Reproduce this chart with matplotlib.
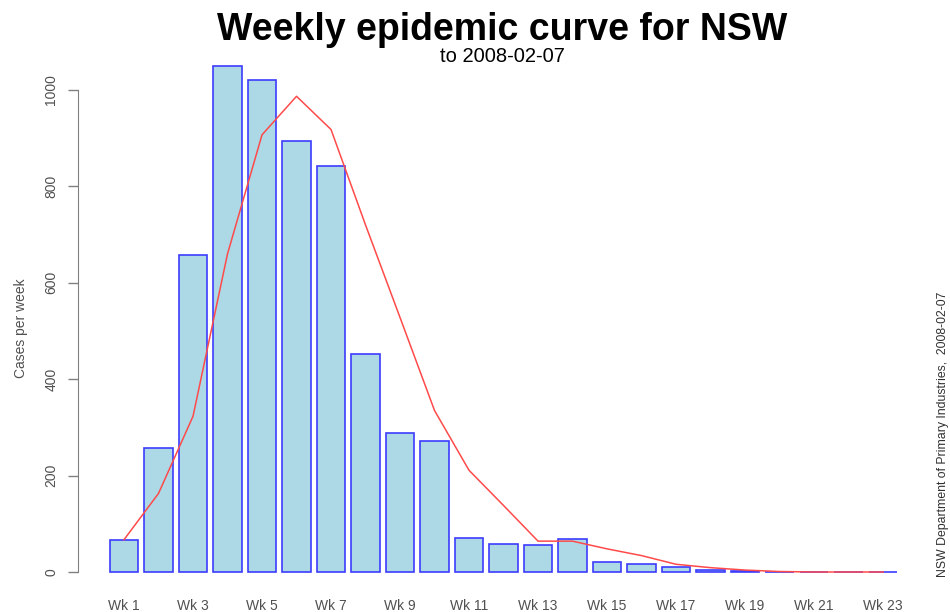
import matplotlib
matplotlib.use("Agg")
import matplotlib.pyplot as plt

plt.rcParams["font.family"] = ["Liberation Sans", "DejaVu Sans"]

# weekly counts
weeks = list(range(1, 24))
week_labels = [f"Wk {w}" for w in weeks]
cases = [67, 258, 658, 1050, 1020, 895, 843, 452, 288, 272, 70, 58,
         57, 68, 20, 17, 10, 5, 2, 1, 0, 0, 0]
trend = [67, 163, 323, 660, 907, 987, 918, 720, 528, 335, 211, 138,
         64, 64, 48, 34, 16, 9, 4, 1, 0, 0, 0]
y_ticks = [0, 200, 400, 600, 800, 1000]

TEXT_GREY = "#505050"


def main() -> None:
    fig = plt.figure(figsize=(9.5, 6.12), dpi=100)
    ax = fig.add_axes([78 / 950, 20 / 612, 832 / 950, 542 / 612])

    ax.bar(weeks, cases, width=0.83, color="#add8e6",
           edgecolor="#3c3cff", linewidth=1.2, zorder=2)
    ax.plot(weeks, trend, color="#ff4a4a", linewidth=1.1, zorder=3)

    ax.set_xlim(-0.333, 23.78)
    ax.set_ylim(-41.5, 1083)

    for side in ("top", "right", "bottom"):
        ax.spines[side].set_visible(False)
    ax.spines["left"].set_bounds(0, 1000)
    ax.spines["left"].set_color("#808080")

    ax.set_yticks(y_ticks)
    ax.set_yticklabels([str(v) for v in y_ticks], rotation=90, va="center")
    ax.tick_params(axis="y", length=7.2, width=1, color="#808080",
                   labelsize=10, labelcolor=TEXT_GREY, pad=7)

    ax.set_xticks(weeks[::2])
    ax.set_xticklabels(week_labels[::2])
    ax.tick_params(axis="x", length=0, labelsize=10,
                   labelcolor=TEXT_GREY, pad=5)

    fig.text(21 / 950, 1 - 328 / 612, "Cases per week", rotation=90,
             ha="center", va="center", fontsize=10, color=TEXT_GREY)

    fig.text(502 / 950, 1 - 40 / 612, "Weekly epidemic curve for NSW",
             ha="center", va="baseline", fontsize=27, fontweight="bold")
    fig.text(502 / 950, 1 - 62 / 612, "to 2008-02-07",
             ha="center", va="baseline", fontsize=14.5)

    fig.text(943 / 950, 1 - 577 / 612,
             "NSW Department of Primary Industries,  2008-02-07",
             rotation=90, ha="center", va="bottom", fontsize=8.8,
             color="#303030")

    fig.savefig("out.png", dpi=100)
    plt.close(fig)


if __name__ == "__main__":
    main()
